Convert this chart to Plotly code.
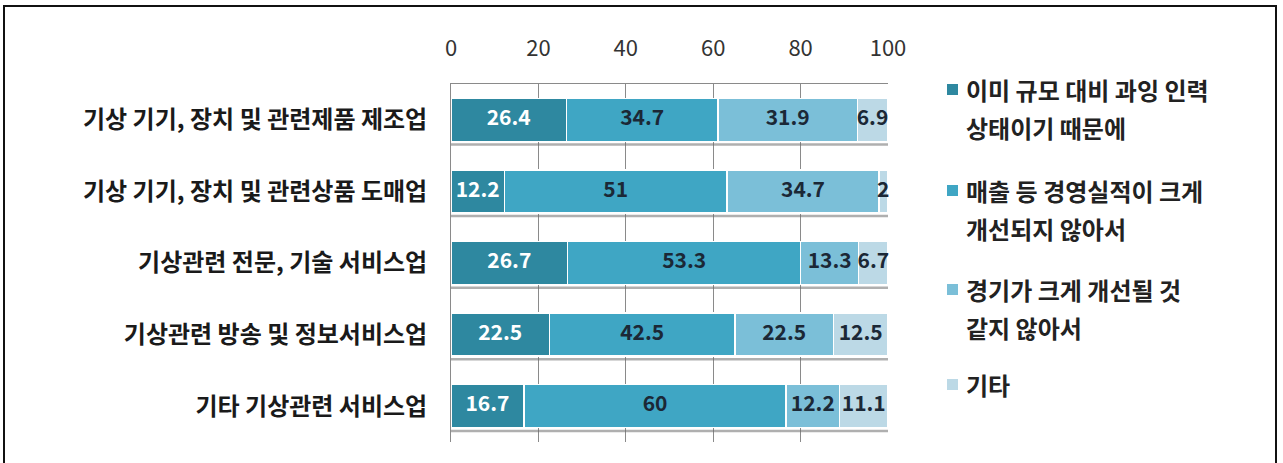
import plotly.graph_objects as go

# ---- data ----
categories = [
    "기상 기기, 장치 및 관련제품 제조업",
    "기상 기기, 장치 및 관련상품 도매업",
    "기상관련 전문, 기술 서비스업",
    "기상관련 방송 및 정보서비스업",
    "기타 기상관련 서비스업",
]
series_names = [
    "이미 규모 대비 과잉 인력|상태이기 때문에",
    "매출 등 경영실적이 크게|개선되지 않아서",
    "경기가 크게 개선될 것|같지 않아서",
    "기타",
]
s1 = [26.4, 12.2, 26.7, 22.5, 16.7]
s2 = [34.7, 51, 53.3, 42.5, 60]
s3 = [31.9, 34.7, 13.3, 22.5, 12.2]
s4 = [6.9, 2, 6.7, 12.5, 11.1]
x_ticks = [0, 20, 40, 60, 80, 100]

series_values = [s1, s2, s3, s4]
colors = ["#2e88a0", "#3fa6c4", "#7bbfd8", "#bcd9e6"]
text_colors = ["#ffffff", "#1b2836", "#1b2836", "#1b2836"]

FONT = "Noto Sans CJK KR"
W, H = 1283, 463
L, R, T, B = 451, 395, 84, 21
PW, PH = W - L - R, H - T - B

fig = go.Figure()
ypos = list(range(len(categories)))
base = [0.0] * len(categories)
for name, vals, col, tcol in zip(series_names, series_values, colors, text_colors):
    fig.add_trace(go.Bar(
        y=ypos, x=vals, orientation="h", name=name.replace("|", " "),
        marker=dict(color=col, line=dict(color="#ffffff", width=1.5)),
        showlegend=False, width=0.6, hoverinfo="x+name",
    ))
    mids = [b + v / 2 for b, v in zip(base, vals)]
    fig.add_trace(go.Scatter(
        x=mids, y=ypos, mode="text", text=[f"{v:g}" for v in vals],
        textposition="middle center",
        textfont=dict(family=FONT, size=21, color=tcol, weight="bold"),
        showlegend=False, hoverinfo="skip", cliponaxis=False,
    ))
    base = [b + v for b, v in zip(base, vals)]

# bar shadows under each category band
shapes = []
for i in ypos:
    shapes.append(dict(type="line", xref="x", yref="y", x0=0, x1=100,
                       y0=i + 0.345, y1=i + 0.345,
                       line=dict(color="rgba(110,110,110,0.55)", width=2.5)))

def px2x(px):
    return (px - L) / PW

def px2y(py):
    return (H - B - py) / PH

# outer frame
shapes.append(dict(type="rect", xref="paper", yref="paper",
                   x0=px2x(4), x1=px2x(1276), y0=px2y(6), y1=px2y(480),
                   line=dict(color="#111111", width=2), fillcolor="rgba(0,0,0,0)"))

# custom legend
annotations = []
legend_first_line_px = [89, 190, 289, 384]
line_gap = 38.5
for name, col, y0 in zip(series_names, colors, legend_first_line_px):
    shapes.append(dict(type="rect", xref="paper", yref="paper",
                       x0=px2x(947), x1=px2x(958), y0=px2y(y0 + 6), y1=px2y(y0 - 5),
                       line=dict(width=0), fillcolor=col))
    for k, line in enumerate(name.split("|")):
        annotations.append(dict(xref="paper", yref="paper", x=px2x(964),
                                y=px2y(y0 + k * line_gap), text=line, showarrow=False,
                                xanchor="left", yanchor="middle",
                                font=dict(family=FONT, size=24, color="#222222", weight="bold")))

fig.update_layout(
    width=W, height=H, barmode="stack", bargap=0.4,
    margin=dict(l=L, r=R, t=T, b=B, pad=0),
    paper_bgcolor="#ffffff", plot_bgcolor="#ffffff",
    shapes=shapes, annotations=annotations,
    font=dict(family=FONT, color="#222222"),
)
fig.update_xaxes(range=[0, 100], side="top", tickvals=x_ticks,
                 showgrid=True, gridcolor="#8a8a8a", gridwidth=1,
                 showline=True, linecolor="#8a8a8a", linewidth=1,
                 zeroline=False, ticks="", ticklabelstandoff=18,
                 tickfont=dict(family=FONT, size=22, color="#333333"))
fig.update_yaxes(tickvals=ypos, ticktext=categories, autorange=False,
                 range=[len(categories) - 0.5, -0.5],
                 showgrid=False, zeroline=False, showline=True,
                 linecolor="#8a8a8a", linewidth=1, ticks="",
                 ticklabelstandoff=18,
                 tickfont=dict(family=FONT, size=24, color="#1a1a1a", weight="bold"))

fig.write_html("out.html", config={"displayModeBar": False},
               post_script="document.body.style.margin='0';document.body.style.overflow='hidden';")
